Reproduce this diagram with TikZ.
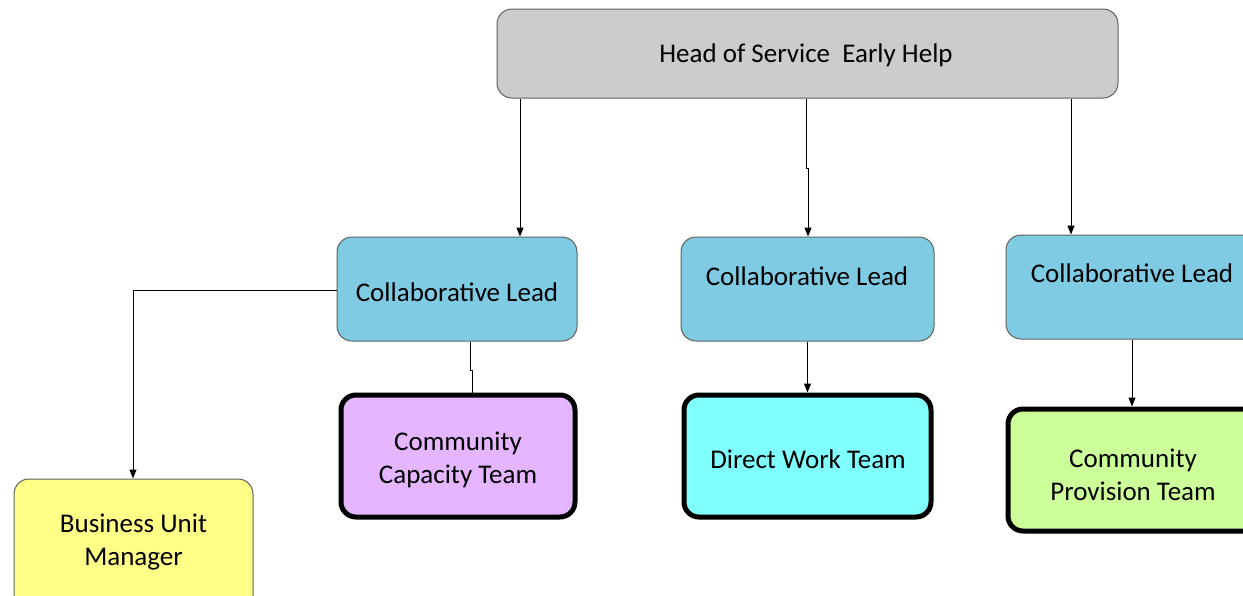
\documentclass[tikz,border=0pt]{standalone}
\usepackage{fontspec}
\setmainfont{Carlito}
\usetikzlibrary{arrows.meta}
\definecolor{headgray}{HTML}{CCCCCC}
\definecolor{leadblue}{HTML}{7ECBE3}
\definecolor{lav}{HTML}{E5B5FF}
\definecolor{cyanbox}{HTML}{80FFFF}
\definecolor{greenbox}{HTML}{CCFF99}
\definecolor{yellowbox}{HTML}{FFFF88}
\definecolor{edgegray}{HTML}{606060}
\tikzset{
  boxfont/.style={font=\fontsize{27}{33}\selectfont},
  thinbox/.style={draw=edgegray, line width=1pt, rounded corners=15pt, inner sep=0pt, align=center, boxfont},
  thickbox/.style={draw=black, line width=5pt, rounded corners=15pt, inner sep=0pt, align=center, boxfont},
  txt/.style={inner sep=0pt, align=center, boxfont},
  conn/.style={draw=black, line width=1pt},
  arr/.style={conn, -{Triangle[length=9pt,width=7pt]}}
}
\begin{document}
\begin{tikzpicture}[x=1pt,y=-1pt]
\useasboundingbox (0,0) rectangle (1243,595);
\clip (0,0) rectangle (1243,595);
\fill[white] (0,0) rectangle (1243,595);
% boxes
\node[thinbox, fill=headgray, minimum width=621pt, minimum height=89pt] (head) at (807.5,53.5) {};
\node[txt] (headt) at (806,55) {Head of Service\ \ Early Help};
\node[thinbox, fill=leadblue, minimum width=240pt, minimum height=104pt] (cl1) at (457,289) {};
\node[txt] (cl1t) at (457,292) {Collaborative Lead};
\node[thinbox, fill=leadblue, minimum width=253pt, minimum height=104pt] (cl2) at (807.5,289) {};
\node[txt] (cl2t) at (807,276) {Collaborative Lead};
\node[thinbox, fill=leadblue, minimum width=260pt, minimum height=104pt] (cl3) at (1136,287) {};
\node[txt] (cl3t) at (1132,273) {Collaborative Lead};
\node[thickbox, fill=lav, minimum width=234pt, minimum height=122pt] (cct) at (458,456) {};
\node[txt] (cctt) at (458,460) {Community\\Capacity Team};
\node[thickbox, fill=cyanbox, minimum width=247pt, minimum height=122pt] (dwt) at (807.5,456) {};
\node[txt] (dwtt) at (808,459) {Direct Work Team};
\node[thickbox, fill=greenbox, minimum width=260pt, minimum height=122pt] (cpt) at (1138,470) {};
\node[txt] (cptt) at (1133,475) {Community\\Provision Team};
\node[thinbox, fill=yellowbox, minimum width=239pt, minimum height=140pt] (bum) at (133.5,549) {};
\node[txt] (bumt) at (133.5,542) {Business Unit\\Manager};
% connectors
\draw[arr] (head.south -| 520,0) -- (cl1.north -| 520,0);
\draw[arr] (head.south -| 806,0) -- (806,168) -- (808,168) -- (cl2.north -| 808,0);
\draw[arr] (head.south -| 1071,0) -- (cl3.north -| 1071,0);
\draw[arr] (cl1.west |- 0,290) -- (133,290) -- (bum.north -| 133,0);
\draw[conn] (cl1.south -| 470,0) -- (470,370) -- (472,370) -- (cct.north -| 472,0);
\draw[arr] (cl2.south) -- (dwt.north);
\draw[arr] (cl3.south -| 1132,0) -- (cpt.north -| 1132,0);
\end{tikzpicture}
\end{document}
